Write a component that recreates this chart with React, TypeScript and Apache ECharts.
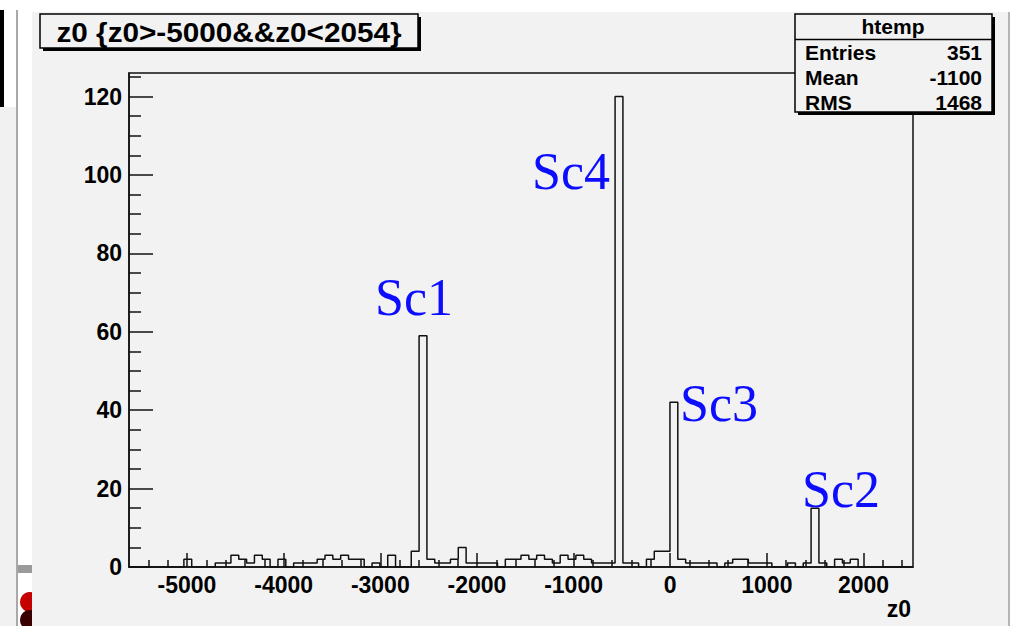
import React, { useEffect, useRef } from "react";
import * as echarts from "echarts";

// ---- data ----
const binCounts = [
  0, 0, 0, 0, 0, 0, 0, 2, 0, 0,
  0, 1, 1, 3, 2, 1, 3, 2, 0, 2,
  0, 1, 1, 1, 2, 3, 2, 3, 2, 2,
  0, 1, 0, 3, 0, 0, 4, 59, 2, 1,
  1, 2, 5, 1, 1, 1, 1, 0, 2, 2,
  3, 2, 3, 2, 1, 3, 2, 3, 2, 1,
  1, 1, 120, 1, 1, 0, 2, 4, 4, 42,
  2, 1, 1, 1, 1, 0, 1, 2, 2, 1,
  1, 1, 0, 0, 1, 0, 1, 15, 1, 0,
  2, 1, 2, 0, 0, 0, 0, 0, 0, 0,
];
const xMin = -5600;
const xMax = 2512;
const yMin = 0;
const yMax = 126;
const xMajorTicks = [-5000, -4000, -3000, -2000, -1000, 0, 1000, 2000];
const xMinorTicks = [
  -5400, -5200, -4800, -4600, -4400, -4200, -3800, -3600, -3400, -3200,
  -2800, -2600, -2400, -2200, -1800, -1600, -1400, -1200, -800, -600,
  -400, -200, 200, 400, 600, 800, 1200, 1400, 1600, 1800, 2200, 2400,
];
const yMajorInterval = 20;
const yMinorTicks = [
  5, 10, 15, 25, 30, 35, 45, 50, 55, 65, 70, 75, 85, 90, 95, 105, 110, 115, 125,
];
const titleText = "z0 {z0>-5000&&z0<2054}";
const xAxisTitle = "z0";
const statsTitle = "htemp";
const statsNames = ["Entries", "Mean", "RMS"];
const statsValues = ["351", "-1100", "1468"];
const peakNames = ["Sc1", "Sc4", "Sc3", "Sc2"];

const SANS = "'Liberation Sans', Arial, Helvetica, sans-serif";
const SERIF = "'Liberation Serif', 'Times New Roman', serif";

export default function App() {
  const ref = useRef<HTMLDivElement>(null);

  useEffect(() => {
    if (!ref.current) return;
    const chart = echarts.init(ref.current, undefined, { renderer: "svg" });

    const nBins = binCounts.length;
    const binW = (xMax - xMin) / nBins;
    const stepData: number[][] = binCounts.map((c, i) => [xMin + i * binW, c]);
    stepData.push([xMax, binCounts[nBins - 1]]);

    const peakPos = [
      { x: 375, y: 297 },
      { x: 532, y: 171 },
      { x: 680, y: 403 },
      { x: 802, y: 489 },
    ];

    const statsRowsY = [52, 77, 102];

    const graphic: any[] = [
      // white surroundings (screenshot frame)
      { type: "rect", z: -5, shape: { x: 0, y: 0, width: 1010, height: 12 }, style: { fill: "#ffffff" } },
      { type: "rect", z: -5, shape: { x: 0, y: 0, width: 32, height: 626 }, style: { fill: "#ffffff" } },
      { type: "rect", z: -4, shape: { x: 0, y: 107, width: 16, height: 519 }, style: { fill: "#f1f1f1" } },
      { type: "rect", z: -4, shape: { x: 0, y: 10, width: 4, height: 97 }, style: { fill: "#000000" } },
      { type: "rect", z: -4, shape: { x: 16, y: 10, width: 2, height: 616 }, style: { fill: "#a9a9a9" } },
      { type: "rect", z: -4, shape: { x: 18, y: 565, width: 14, height: 8 }, style: { fill: "#9a9a9a" } },
      { type: "circle", z: -4, shape: { cx: 30, cy: 602, r: 10 }, style: { fill: "#c40000" } },
      { type: "circle", z: -4, shape: { cx: 30, cy: 620, r: 10 }, style: { fill: "#3a0000" } },
      { type: "rect", z: -3, shape: { x: 32, y: 590, width: 10, height: 36 }, style: { fill: "#f2f2f2" } },
      { type: "rect", z: -4, shape: { x: 1008, y: 12, width: 2, height: 614 }, style: { fill: "#b4b4b4" } },

      // title pave
      { type: "rect", z: 50, shape: { x: 43, y: 17, width: 378, height: 34 }, style: { fill: "#000" } },
      { type: "rect", z: 51, shape: { x: 40, y: 14, width: 378, height: 34 }, style: { fill: "#f2f2f2", stroke: "#000", lineWidth: 1.5 } },
      {
        type: "text", z: 52, x: 229, y: 32, scaleX: 1.1,
        style: { text: titleText, fontFamily: SANS, fontWeight: "bold", fontSize: 27, fill: "#000", textAlign: "center", textVerticalAlign: "middle" },
      },

      // stats box
      { type: "rect", z: 50, shape: { x: 798, y: 17, width: 197, height: 98 }, style: { fill: "#000" } },
      { type: "rect", z: 51, shape: { x: 795, y: 14, width: 197, height: 98 }, style: { fill: "#f2f2f2", stroke: "#000", lineWidth: 1.5 } },
      { type: "line", z: 52, shape: { x1: 795, y1: 39.5, x2: 992, y2: 39.5 }, style: { stroke: "#000", lineWidth: 1.5 } },
      {
        type: "text", z: 52, x: 893, y: 26,
        style: { text: statsTitle, fontFamily: SANS, fontWeight: "bold", fontSize: 21, fill: "#000", textAlign: "center", textVerticalAlign: "middle" },
      },
      ...statsNames.map((n, i) => ({
        type: "text", z: 52, x: 805, y: statsRowsY[i],
        style: { text: n, fontFamily: SANS, fontWeight: "bold", fontSize: 21, fill: "#000", textAlign: "left", textVerticalAlign: "middle" },
      })),
      ...statsValues.map((v, i) => ({
        type: "text", z: 52, x: 982, y: statsRowsY[i],
        style: { text: v, fontFamily: SANS, fontWeight: "bold", fontSize: 21, fill: "#000", textAlign: "right", textVerticalAlign: "middle" },
      })),

      // x axis title
      {
        type: "text", z: 20, x: 911, y: 609,
        style: { text: xAxisTitle, fontFamily: SANS, fontWeight: "bold", fontSize: 23, fill: "#000", textAlign: "right", textVerticalAlign: "middle" },
      },

      // peak annotations
      ...peakNames.map((n, i) => ({
        type: "text", z: 30, x: peakPos[i].x, y: peakPos[i].y,
        style: { text: n, fontFamily: SERIF, fontSize: 52, fill: "#0c0cff", textAlign: "left", textVerticalAlign: "middle" },
      })),
    ];

    const axisLabelStyle = { fontFamily: SANS, fontWeight: "bold" as const, fontSize: 23, color: "#000" };

    chart.setOption({
      animation: false,
      backgroundColor: "#f2f2f2",
      grid: {
        left: 129,
        top: 73,
        right: 97,
        bottom: 59,
        show: true,
        borderColor: "#111",
        borderWidth: 1.5,
        backgroundColor: "transparent",
      },
      xAxis: [
        {
          type: "value",
          position: "bottom",
          min: xMin,
          max: xMax,
          axisLine: { show: true, onZero: false, lineStyle: { color: "#111", width: 1.5 } },
          axisTick: { show: true, inside: true, length: 14, customValues: xMajorTicks, lineStyle: { color: "#111", width: 1.5 } },
          axisLabel: { ...axisLabelStyle, margin: 6, customValues: xMajorTicks, formatter: (v: number) => String(v) },
          splitLine: { show: false },
        },
        {
          type: "value",
          position: "bottom",
          min: xMin,
          max: xMax,
          axisLine: { show: false, onZero: false },
          axisTick: { show: true, inside: true, length: 7, customValues: xMinorTicks, lineStyle: { color: "#111", width: 1.5 } },
          axisLabel: { show: false },
          splitLine: { show: false },
        },
      ],
      yAxis: [
        {
          type: "value",
          position: "left",
          min: yMin,
          max: yMax,
          interval: yMajorInterval,
          axisLine: { show: true, onZero: false, lineStyle: { color: "#111", width: 1.5 } },
          axisTick: { show: true, inside: true, length: 24, lineStyle: { color: "#111", width: 1.5 } },
          axisLabel: { ...axisLabelStyle, margin: 7, showMaxLabel: false },
          splitLine: { show: false },
        },
        {
          type: "value",
          position: "left",
          min: yMin,
          max: yMax,
          axisLine: { show: false, onZero: false },
          axisTick: { show: true, inside: true, length: 12, customValues: yMinorTicks, lineStyle: { color: "#111", width: 1.5 } },
          axisLabel: { show: false },
          splitLine: { show: false },
        },
      ],
      series: [
        {
          type: "line",
          xAxisIndex: 0,
          yAxisIndex: 0,
          step: "end",
          data: stepData,
          symbol: "none",
          lineStyle: { color: "#111", width: 1.5 },
          z: 5,
        },
      ],
      graphic,
    });

    return () => chart.dispose();
  }, []);

  return (
    <div
      ref={ref}
      style={{ position: "fixed", left: 0, top: 0, width: 1010, height: 626 }}
    />
  );
}
